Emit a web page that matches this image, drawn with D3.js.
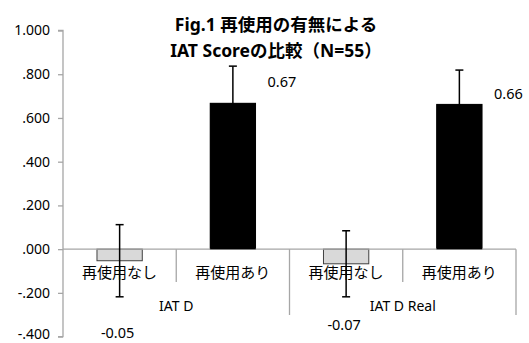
<!DOCTYPE html>
<html><head><meta charset="utf-8">
<script src="https://cdn.jsdelivr.net/npm/d3@7"></script>
<style>
html,body{margin:0;padding:0;background:#fff;}
text{font-family:"Noto Sans","Noto Sans CJK JP",sans-serif;fill:#000;}
</style></head>
<body><svg id="c" width="529" height="343"></svg>
<script>
const titleLines = ["Fig.1 再使用の有無による", "IAT Scoreの比較（N=55）"];
const groups = ["IAT D", "IAT D Real"];
const conditions = ["再使用なし", "再使用あり"];
const means = [-0.053, 0.667, -0.067, 0.662];
const errors = [0.165, 0.17, 0.151, 0.157];
const yTicks = [1.0, 0.8, 0.6, 0.4, 0.2, 0.0, -0.2, -0.4];
const tickLabels = ["1.000", ".800", ".600", ".400", ".200", ".000", "-.200", "-.400"];

(function () {
const svg = d3.select("#c");
const pLeft = 63, pRight = 516, pTop = 30.5, pBottom = 336.6;
const y = d3.scaleLinear().domain([-0.4, 1.0]).range([pBottom, pTop]);
const cells = [];
groups.forEach((g, gi) => conditions.forEach((c, ci) => cells.push({g, c, gi, ci, i: gi * conditions.length + ci})));
const x = d3.scaleBand().domain(cells.map(d => d.i)).range([pLeft, pRight]).paddingInner(0).paddingOuter(0);
const barW = x.bandwidth() * 0.4;
const axisColor = "#a6a6a6";

// Title
svg.append("g").selectAll("text").data(titleLines).join("text")
  .attr("x", 276).attr("y", (d, i) => 24 + i * 26)
  .attr("text-anchor", "middle").attr("dominant-baseline", "central")
  .style("font-size", "17.5px").style("font-weight", "bold").text(d => d);

// Y axis
const yAxis = d3.axisLeft(y).tickValues(yTicks).tickSize(5).tickPadding(8)
  .tickFormat((d, i) => tickLabels[i]);
const ga = svg.append("g").attr("transform", `translate(${pLeft},0)`).call(yAxis);
ga.select(".domain").attr("stroke", axisColor).attr("stroke-width", 1.3).attr("d", `M-5,${pTop}H0V${pBottom}H-5`);
ga.selectAll(".tick line").attr("stroke", axisColor).attr("stroke-width", 1.3);
ga.selectAll(".tick text").style("font-size", "14px").style("font-family", "'Noto Sans',sans-serif").attr("fill", "#000")
  .attr("y", (d, i) => i === yTicks.length - 1 ? -2.5 : 0);

// Bars
const color = d => d.ci === 0 ? "#d9d9d9" : "#000";
const bx = d => x(d.i) + (x.bandwidth() - barW) / 2;
svg.append("g").selectAll("rect").data(cells).join("rect")
  .attr("x", bx).attr("width", barW)
  .attr("y", d => y(Math.max(0, means[d.i])))
  .attr("height", d => Math.abs(y(means[d.i]) - y(0)))
  .attr("fill", color).attr("stroke", d => d.ci === 0 ? "#404040" : "#000").attr("stroke-width", 1);

// Zero line & category dividers
svg.append("line").attr("x1", pLeft).attr("x2", pRight).attr("y1", y(0)).attr("y2", y(0))
  .attr("stroke", axisColor).attr("stroke-width", 1.3);
const dividers = d3.range(1, cells.length + 1);
svg.append("g").selectAll("line").data(dividers).join("line")
  .attr("x1", i => x(0) + i * x.bandwidth()).attr("x2", i => x(0) + i * x.bandwidth())
  .attr("y1", y(0))
  .attr("y2", i => i % conditions.length === 0 ? 315 : 282)
  .attr("stroke", axisColor).attr("stroke-width", 1.3);

// Error bars
const eb = svg.append("g").selectAll("g").data(cells).join("g");
const cx = d => x(d.i) + x.bandwidth() / 2;
eb.append("line").attr("x1", cx).attr("x2", cx)
  .attr("y1", d => y(means[d.i] + errors[d.i])).attr("y2", d => y(means[d.i] - errors[d.i]))
  .attr("stroke", "#000").attr("stroke-width", 1.5);
[1, -1].forEach(s => eb.append("line")
  .attr("x1", d => cx(d) - 4).attr("x2", d => cx(d) + 4)
  .attr("y1", d => y(means[d.i] + s * errors[d.i])).attr("y2", d => y(means[d.i] + s * errors[d.i]))
  .attr("stroke", "#000").attr("stroke-width", 1.5));
// redraw black bars over lower error line
svg.append("g").selectAll("rect").data(cells.filter(d => means[d.i] > 0)).join("rect")
  .attr("x", bx).attr("width", barW)
  .attr("y", d => y(means[d.i])).attr("height", d => y(0) - y(means[d.i]))
  .attr("fill", "#000");

// Category labels
svg.append("g").selectAll("text").data(cells).join("text")
  .attr("x", cx).attr("y", 272).attr("text-anchor", "middle").attr("dominant-baseline", "central")
  .style("font-size", "15px").text(d => d.c);

// Group labels
svg.append("g").selectAll("text").data(groups).join("text")
  .attr("x", (d, gi) => x(gi * 2) + x.bandwidth()).attr("y", 305)
  .attr("text-anchor", "middle").attr("dominant-baseline", "central")
  .style("font-size", "14px").text(d => d);

// Value labels
const dyPos = [0, 15, 0, 23], dyNeg = [35, 0, 27, 0];
svg.append("g").selectAll("text").data(cells).join("text")
  .attr("x", d => means[d.i] > 0 ? bx(d) + barW + 12 : cx(d) - 2)
  .attr("y", d => means[d.i] > 0 ? y(means[d.i] + errors[d.i]) + dyPos[d.i] : y(means[d.i] - errors[d.i]) + dyNeg[d.i])
  .attr("text-anchor", d => means[d.i] > 0 ? "start" : "middle")
  .attr("dominant-baseline", "central")
  .style("font-size", "14.5px").text(d => means[d.i].toFixed(2));
})();
</script></body></html>
